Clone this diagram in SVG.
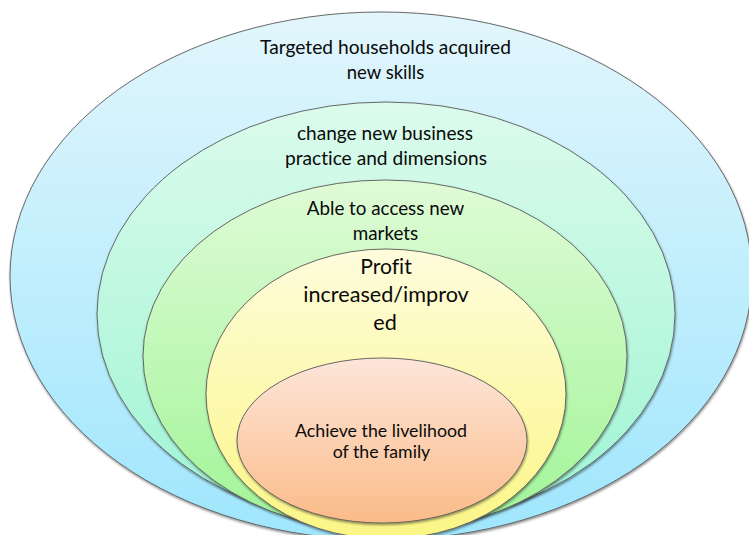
<svg xmlns="http://www.w3.org/2000/svg" width="749" height="535" viewBox="0 0 749 535">
  <defs>
    <linearGradient id="gBlue" x1="0" y1="0" x2="0" y2="1">
      <stop offset="0" stop-color="#e2f6fc"/>
      <stop offset="1" stop-color="#9fe6fd"/>
    </linearGradient>
    <linearGradient id="gMint" x1="0" y1="0" x2="0" y2="1">
      <stop offset="0" stop-color="#dcfbec"/>
      <stop offset="1" stop-color="#9cf4d4"/>
    </linearGradient>
    <linearGradient id="gGreen" x1="0" y1="0" x2="0" y2="1">
      <stop offset="0" stop-color="#dffbd6"/>
      <stop offset="1" stop-color="#a0f597"/>
    </linearGradient>
    <linearGradient id="gYellow" x1="0" y1="0" x2="0" y2="1">
      <stop offset="0" stop-color="#fefcdc"/>
      <stop offset="1" stop-color="#fbf685"/>
    </linearGradient>
    <linearGradient id="gOrange" x1="0" y1="0" x2="0" y2="1">
      <stop offset="0" stop-color="#fde6da"/>
      <stop offset="1" stop-color="#fbbb88"/>
    </linearGradient>
    <filter id="shadow" x="-5%" y="-5%" width="110%" height="115%">
      <feDropShadow dx="0.6" dy="1.6" stdDeviation="1.3" flood-color="#000" flood-opacity="0.45"/>
    </filter>
  </defs>
  <style>
    .ring { stroke: #5a5a5a; stroke-width: 0.9; filter: url(#shadow); }
    .lbl { font-family: Lato, "Open Sans", "Liberation Sans", sans-serif; fill: #0a0a0a; text-anchor: middle; font-variant-ligatures: none; }
    .main { font-size: 20px; }
    .big { font-size: 22px; }
    .small { font-size: 17px; }
  </style>

  <rect width="749" height="535" fill="#ffffff"/>

  <g id="skills">
    <ellipse class="ring" cx="381" cy="276" rx="371" ry="264" fill="url(#gBlue)"/>
    <text class="lbl main" x="385.5" y="53.5" textLength="251" lengthAdjust="spacingAndGlyphs">Targeted households acquired</text>
    <text class="lbl main" x="385.5" y="79" textLength="77.5" lengthAdjust="spacingAndGlyphs">new skills</text>
  </g>

  <g id="practice">
    <ellipse class="ring" cx="386" cy="314" rx="289" ry="212" fill="url(#gMint)"/>
    <text class="lbl main" x="385" y="140" textLength="176" lengthAdjust="spacingAndGlyphs">change new business</text>
    <text class="lbl main" x="386" y="165" textLength="202" lengthAdjust="spacingAndGlyphs">practice and dimensions</text>
  </g>

  <g id="markets">
    <ellipse class="ring" cx="385" cy="356" rx="242" ry="176" fill="url(#gGreen)"/>
    <text class="lbl main" x="385.5" y="215" textLength="157.5" lengthAdjust="spacingAndGlyphs">Able to access new</text>
    <text class="lbl main" x="385.5" y="239.5" textLength="65.5" lengthAdjust="spacingAndGlyphs">markets</text>
  </g>

  <g id="profit">
    <ellipse class="ring" cx="386" cy="394" rx="180" ry="145" fill="url(#gYellow)"/>
    <text class="lbl big" x="386" y="273.5" textLength="51.5" lengthAdjust="spacingAndGlyphs">Profit</text>
    <text class="lbl big" x="386" y="302" textLength="165.5" lengthAdjust="spacingAndGlyphs">increased/improv</text>
    <text class="lbl big" x="385" y="330" textLength="23.5" lengthAdjust="spacingAndGlyphs">ed</text>
  </g>

  <g id="livelihood">
    <ellipse class="ring" cx="382" cy="440.5" rx="145" ry="82.5" fill="url(#gOrange)"/>
    <text class="lbl small" x="381" y="437" textLength="172" lengthAdjust="spacingAndGlyphs">Achieve the livelihood</text>
    <text class="lbl small" x="381.5" y="458" textLength="97.5" lengthAdjust="spacingAndGlyphs">of the family</text>
  </g>
</svg>
